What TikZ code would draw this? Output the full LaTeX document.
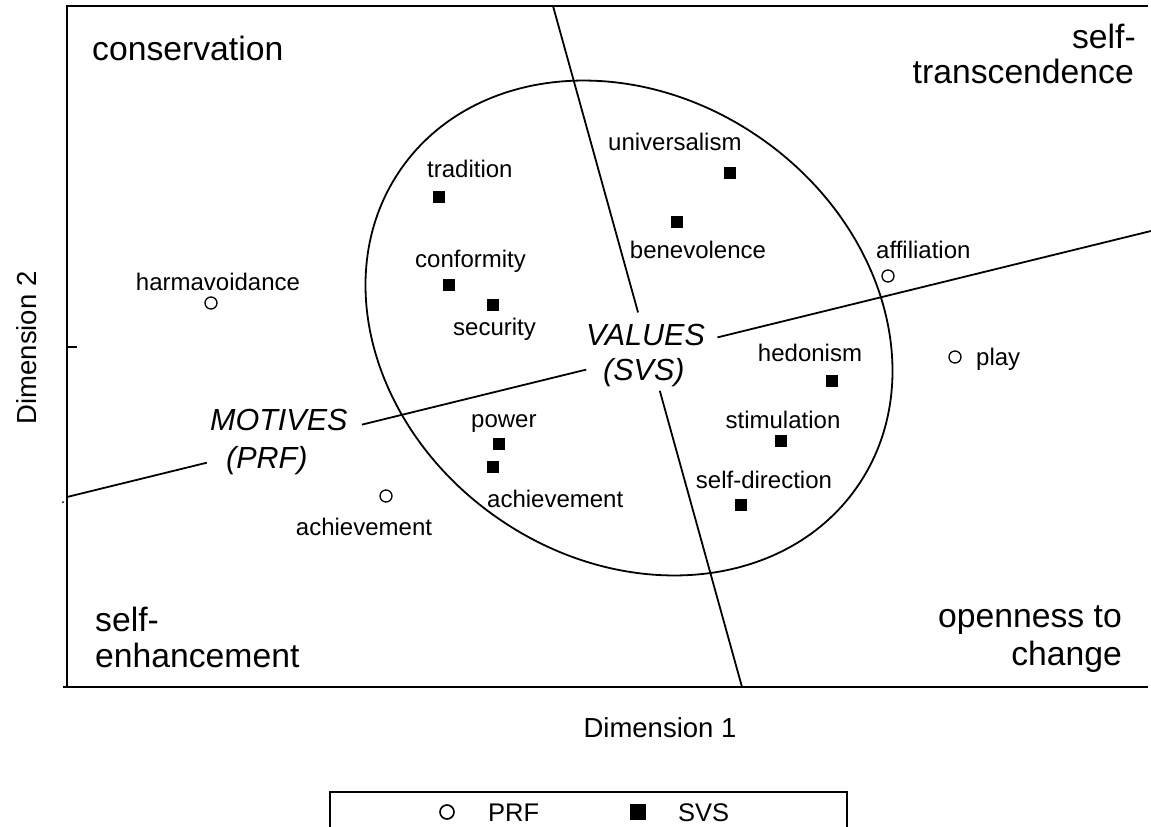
\documentclass[tikz,border=0pt]{standalone}
\usepackage{fontspec}
\setmainfont{Liberation Sans}
\usetikzlibrary{calc}
\begin{document}
\begin{tikzpicture}[x=1pt,y=-1pt,
  svs/.style={rectangle,fill=black,draw=none,minimum size=12.5pt,inner sep=0pt},
  prf/.style={circle,draw=black,fill=white,line width=1.3pt,minimum size=12pt,inner sep=0pt},
  lbl/.style={font=\fontsize{24}{28}\selectfont,inner sep=0pt},
  quad/.style={font=\fontsize{33.7}{37}\selectfont,inner sep=0pt},
  dimlbl/.style={font=\fontsize{27.5}{30}\selectfont,inner sep=0pt},
  region/.style={font=\fontsize{30.5}{34}\selectfont\itshape,inner sep=0pt},
  rule/.style={line width=1.8pt},
  axisline/.style={line width=2.2pt}
]
\useasboundingbox (0,0) rectangle (1151,827);

% frame of the plot (left, top and bottom only)
\coordinate (tl) at (67,6);
\coordinate (tr) at (1148,6);
\coordinate (bl) at (67,687);
\coordinate (br) at (1148,687);
\draw[axisline] (tr) -- (tl) -- (bl);
\draw[axisline] ($(bl)+(-4,0)$) -- (br);
\coordinate (tickL) at (67,347);
\coordinate (tickR) at (77,347);
\draw[line width=1.5pt] (tickL) -- (tickR);
\fill (63,502) circle (1pt);

% circle of values
\draw[rule,rotate around={-35:(629,328)}] (629,328) ellipse [x radius=278pt, y radius=231pt];

% motives axis, broken around its labels
\coordinate (mA) at (67,497);
\coordinate (mB) at (1151,231);
\draw[rule] (mA) -- ($(mA)!0.129!(mB)$);
\draw[rule] ($(mA)!0.272!(mB)$) -- ($(mA)!0.479!(mB)$);
\draw[rule] ($(mA)!0.600!(mB)$) -- (mB);

% values axis, broken around its label
\coordinate (vA) at (553,6);
\coordinate (vB) at (742,687);
\draw[rule] (vA) -- ($(vA)!0.45!(vB)$);
\draw[rule] ($(vA)!0.565!(vB)$) -- (vB);

% region labels
\node[region,anchor=base west] (motives) at (210,430) {MOTIVES};
\node[region,anchor=base west] (prfr) at (226,468) {(PRF)};
\node[region,anchor=base west] (values) at (586,345) {VALUES};
\node[region,anchor=base west] (svsr) at (603,380) {(SVS)};

% quadrant labels
\node[quad,anchor=base west] (q1) at (92,60) {conservation};
\node[quad,anchor=base east] (q2a) at (1136,48) {self-};
\node[quad,anchor=base east] (q2b) at (1134,83) {transcendence};
\node[quad,anchor=base west] (q3a) at (95,631) {self-};
\node[quad,anchor=base west] (q3b) at (95,667) {enhancement};
\node[quad,anchor=base east] (q4a) at (1122,627) {openness to};
\node[quad,anchor=base east] (q4b) at (1122,665) {change};

% axis titles
\node[dimlbl,anchor=base] (d1) at (660,737) {Dimension 1};
\node[dimlbl,rotate=90] (d2) at (27,348) {Dimension 2};

% SVS value types
\node[svs] (tra) at (439,197) {};
\node[svs] (uni) at (730,173) {};
\node[svs] (ben) at (677,222) {};
\node[svs] (con) at (449,285) {};
\node[svs] (sec) at (493,305) {};
\node[svs] (pow) at (499,444) {};
\node[svs] (ach) at (493,467) {};
\node[svs] (hed) at (832,381) {};
\node[svs] (sti) at (781,441) {};
\node[svs] (sdi) at (741,505) {};

\node[lbl,anchor=base west] at (427,177) {tradition};
\node[lbl,anchor=base west] at (608,150) {universalism};
\node[lbl,anchor=base] at (698,258) {benevolence};
\node[lbl,anchor=base west] at (415,267) {conformity};
\node[lbl,anchor=base west] at (453,335) {security};
\node[lbl,anchor=base west] at (471,427) {power};
\node[lbl,anchor=base west] at (487,507) {achievement};
\node[lbl,anchor=base] at (810,361) {hedonism};
\node[lbl,anchor=base] at (783,428) {stimulation};
\node[lbl,anchor=base] at (764,488) {self-direction};

% PRF motives
\node[prf] (har) at (211,303) {};
\node[prf] (aff) at (888,276) {};
\node[prf] (pla) at (955,357) {};
\node[prf] (pach) at (386,496) {};

\node[lbl,anchor=base] at (218,290) {harmavoidance};
\node[lbl,anchor=base west] at (876,258) {affiliation};
\node[lbl,anchor=base west] at (976,365) {play};
\node[lbl,anchor=base] at (364,535) {achievement};

% legend
\coordinate (lgA) at (330,827);
\coordinate (lgB) at (330,792);
\coordinate (lgC) at (847,792);
\coordinate (lgD) at (847,827);
\draw[line width=1.5pt] (lgA) -- (lgB) -- (lgC) -- (lgD);
\node[prf,minimum size=14pt,line width=1.6pt] (lprf) at (447,812) {};
\node[lbl,anchor=base west,font=\fontsize{25.5}{28}\selectfont] at (488,821) {PRF};
\node[svs,minimum size=16pt] (lsvs) at (638,812) {};
\node[lbl,anchor=base west,font=\fontsize{25.5}{28}\selectfont] at (678,821) {SVS};
\end{tikzpicture}
\end{document}
